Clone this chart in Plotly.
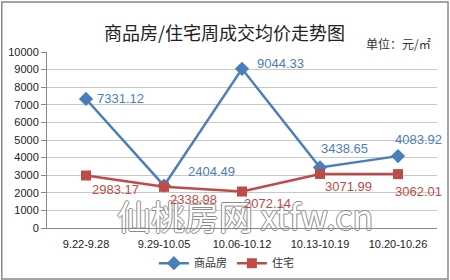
import plotly.graph_objects as go

categories = ["9.22-9.28", "9.29-10.05", "10.06-10.12", "10.13-10.19", "10.20-10.26"]
spf = [7331.12, 2404.49, 9044.33, 3438.65, 4083.92]
zz = [2983.17, 2338.98, 2072.14, 3071.99, 3062.01]
spf_labels = ["7331.12", "2404.49", "9044.33", "3438.65", "4083.92"]
zz_labels = ["2983.17", "2338.98", "2072.14", "3071.99", "3062.01"]
y_ticks = [0, 1000, 2000, 3000, 4000, 5000, 6000, 7000, 8000, 9000, 10000]

BLUE = "#4A7EBB"
RED = "#BE4B48"
FONT = "Liberation Sans"
idx = list(range(len(categories)))

fig = go.Figure()
# watermark (drawn first, behind the series)
fig.add_trace(go.Scatter(x=[2.04], y=[350], mode="text", text=["仙桃房网 xtfw.cn"],
                         showlegend=False, hoverinfo="skip", cliponaxis=False,
                         textfont=dict(family="Noto Sans CJK SC", size=34, color="white",
                                       shadow="1px 0 0 #8a8a8a, -1px 0 0 #8a8a8a, 0 1px 0 #8a8a8a, 0 -1px 0 #8a8a8a")))
fig.add_trace(go.Scatter(x=idx, y=spf, name="商品房", mode="lines+markers",
                         line=dict(color=BLUE, width=2.5),
                         marker=dict(symbol="diamond", size=11, color=BLUE)))
fig.add_trace(go.Scatter(x=idx, y=zz, name="住宅", mode="lines+markers",
                         line=dict(color=RED, width=2.5),
                         marker=dict(symbol="square", size=10, color=RED)))

spf_off = [(34, 0), (47, 14), (38, 5), (24, 19), (20, 17)]
zz_off = [(29, -14), (29, -13), (25, -12), (28, -13), (20, -17)]
for i, v, t, (dx, dy) in zip(idx, spf, spf_labels, spf_off):
    fig.add_annotation(x=i, y=v, text=t, showarrow=False, xshift=dx, yshift=dy,
                       font=dict(family=FONT, size=13, color=BLUE))
for i, v, t, (dx, dy) in zip(idx, zz, zz_labels, zz_off):
    fig.add_annotation(x=i, y=v, text=t, showarrow=False, xshift=dx, yshift=dy,
                       font=dict(family=FONT, size=13, color=RED))

fig.add_annotation(xref="paper", yref="paper", x=0.455, y=1.114, yanchor="middle",
                   text="商品房/住宅周成交均价走势图",
                   showarrow=False, font=dict(family="Noto Sans CJK SC", size=18, color="#222"))
fig.add_annotation(xref="paper", yref="paper", x=0.99, y=1.051, xanchor="right", yanchor="middle",
                   text="单位：元/㎡", showarrow=False,
                   font=dict(family="Noto Sans CJK SC", size=12, color="#333"))

fig.add_shape(type="rect", xref="paper", yref="paper",
              x0=-0.116, x1=1.0282, y0=-0.29, y1=1.284,
              line=dict(color="#888", width=1.5))

fig.update_layout(
    width=450, height=280,
    margin=dict(l=47, r=13, t=52, b=52, autoexpand=False),
    paper_bgcolor="white", plot_bgcolor="white",
    showlegend=True,
    legend=dict(orientation="h", x=0.46, xanchor="center", y=-0.2, yanchor="middle",
                font=dict(family="Noto Sans CJK SC", size=11, color="#333"),
                itemwidth=30, tracegroupgap=0, bgcolor="rgba(0,0,0,0)"),
    font=dict(family=FONT, size=11, color="#222"),
)
fig.update_xaxes(range=[-0.5, 4.5], tickvals=idx, ticktext=categories,
                 showline=True, linecolor="#888", linewidth=1, showgrid=False, zeroline=False,
                 ticks="", ticklabelstandoff=6, tickfont=dict(family=FONT, size=11), fixedrange=True)
fig.update_yaxes(range=[0, 10000], tickvals=y_ticks, ticktext=[str(v) for v in y_ticks],
                 showline=True, linecolor="#888", linewidth=1,
                 gridcolor="#C8C8C8", gridwidth=1, ticks="outside", ticklen=5, tickcolor="#888",
                 tickfont=dict(family=FONT, size=11), zeroline=False, fixedrange=True)

fig.write_html("out.html")
